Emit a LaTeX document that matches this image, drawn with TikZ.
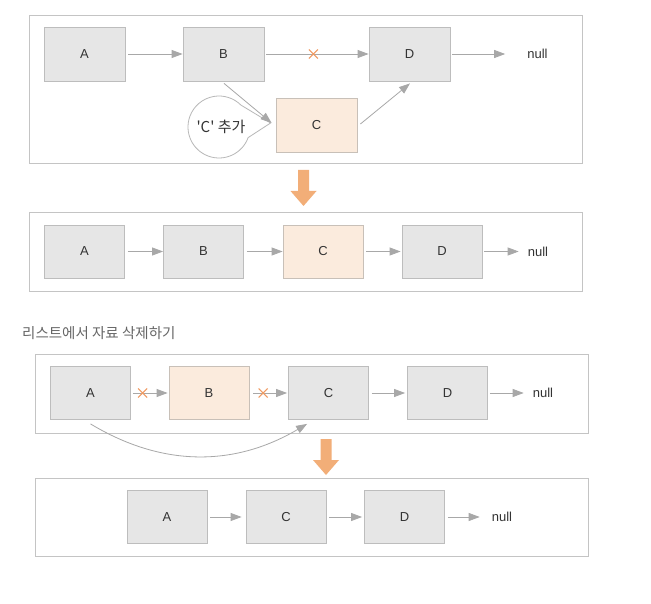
\documentclass[tikz,border=0pt]{standalone}
\usepackage{fontspec}
\setmainfont{Liberation Sans}
\newfontfamily\kr{Noto Sans CJK KR}
\usetikzlibrary{arrows.meta,calc}
\definecolor{boxfill}{HTML}{E6E6E6}
\definecolor{boxborder}{HTML}{BDBDBD}
\definecolor{orangefill}{HTML}{FBEBDD}
\definecolor{orangeborder}{HTML}{C8C0B8}
\definecolor{framecol}{HTML}{C4C4C4}
\definecolor{linkcol}{HTML}{A8A8A8}
\definecolor{crosscol}{HTML}{F09A62}
\definecolor{bigorange}{HTML}{F2AE78}
\definecolor{textcol}{HTML}{333333}
\definecolor{titlecol}{HTML}{666666}
\definecolor{ballooncol}{HTML}{B8B8B8}
\begin{document}
\begin{tikzpicture}[x=1pt,y=-1pt,
  box/.style={draw=boxborder, fill=boxfill, minimum width=80pt, minimum height=53pt,
    inner sep=0pt, line width=0.8pt, font=\fontsize{13}{15}\selectfont, text=textcol},
  bigbox/.style={box, minimum width=81pt, minimum height=54pt},
  newbox/.style={fill=orangefill, draw=orangeborder},
  nulltext/.style={inner sep=0pt, font=\fontsize{13}{15}\selectfont, text=textcol},
  frame/.style={draw=framecol, line width=0.8pt},
  link/.style={draw=linkcol, line width=0.8pt, -{Triangle[length=11pt,width=8pt,fill=linkcol]}},
  balloon/.style={draw=ballooncol, fill=white, line width=0.8pt},
  xmark/.pic={\draw[crosscol, line width=1.1pt] (-4.5,-4.5) -- (4.5,4.5) (-4.5,4.5) -- (4.5,-4.5);},
  bigdown/.pic={\fill[bigorange] (-5.5,0) -- (5.5,0) -- (5.5,21) -- (13,21) -- (0,36) -- (-13,21) -- (-5.5,21) -- cycle;}
]
\useasboundingbox[fill=white] (0,0) rectangle (651,604);

% ---------- panel 1 ----------
\draw[frame] (29,15) rectangle (582,163);
\node[bigbox] (A1) at (84.5,54) {A};
\node[bigbox] (B1) at (223.5,54) {B};
\node[bigbox,newbox] (C1) at (316.5,125) {C};
\node[bigbox] (D1) at (409.5,54) {D};
\node[nulltext] (N1) at (537.5,54) {null};

\draw[balloon] (219,127) ++(20:31) arc[start angle=20, end angle=315, radius=31]
  -- ($(C1.west)+(-5,-2)$) -- cycle;
\node[inner sep=0pt, font=\kr\fontsize{15}{17}\selectfont, text=textcol] (note) at (221,127) {'C' 추가};

\draw[link] ($(A1.east)+(3,0)$) -- (B1.west);
\draw[link] ($(B1.east)+(2,0)$) -- (D1.west);
\path ($(B1.east)+(2,0)$) -- (D1.west) pic[pos=0.46]{xmark};
\draw[link] ($(D1.east)+(2,0)$) -- ($(N1.west)+(-22,0)$);
\draw[link] ($(B1.south)+(0.5,2)$) -- ($(C1.west)+(-4,-2)$);
\draw[link] ($(C1.east)+(3,-1)$) -- ($(D1.south)+(0.5,2)$);

\pic at (303.5,170) {bigdown};

% ---------- panel 2 ----------
\draw[frame] (29,212) rectangle (582,291);
\node[box] (A2) at (84.5,251.5) {A};
\node[box] (B2) at (203.5,251.5) {B};
\node[box,newbox] (C2) at (323,251.5) {C};
\node[box] (D2) at (442,251.5) {D};
\node[nulltext] (N2) at (538,251.5) {null};
\draw[link] ($(A2.east)+(3,0)$) -- (B2.west);
\draw[link] ($(B2.east)+(3,0)$) -- (C2.west);
\draw[link] ($(C2.east)+(3,0)$) -- ($(D2.west)+(-1,0)$);
\draw[link] ($(D2.east)+(2,0)$) -- ($(N2.west)+(-9,0)$);

% ---------- title ----------
\node[anchor=west, inner sep=0pt, font=\kr\fontsize{14.5}{17}\selectfont, text=titlecol] (title) at (22,333) {리스트에서 자료 삭제하기};

% ---------- panel 3 ----------
\draw[frame] (35,354) rectangle (588,433);
\node[box] (A3) at (90.5,393) {A};
\node[box,newbox] (B3) at (209,393) {B};
\node[box] (C3) at (328.5,393) {C};
\node[box] (D3) at (447.5,393) {D};
\node[nulltext] (N3) at (543,393) {null};
\draw[link] ($(A3.east)+(2,0)$) -- ($(B3.west)+(-1,0)$);
\path ($(A3.east)+(2,0)$) -- ($(B3.west)+(-1,0)$) pic[pos=0.28]{xmark};
\draw[link] ($(B3.east)+(4,0)$) -- ($(C3.west)+(-1,0)$);
\path ($(B3.east)+(4,0)$) -- ($(C3.west)+(-1,0)$) pic[pos=0.29]{xmark};
\draw[link] ($(C3.east)+(3,0)$) -- ($(D3.west)+(-2,0)$);
\draw[link] ($(D3.east)+(2,0)$) -- ($(N3.west)+(-9,0)$);
\draw[link] ($(A3.south)+(0,4)$) .. controls (162,467) and (234,467) .. ($(C3.south west)+(19,4)$);

\pic at (326,439) {bigdown};

% ---------- panel 4 ----------
\draw[frame] (35,478) rectangle (588,556);
\node[box] (A4) at (167,517) {A};
\node[box] (C4) at (286,517) {C};
\node[box] (D4) at (404.5,517) {D};
\node[nulltext] (N4) at (502,517) {null};
\draw[link] ($(A4.east)+(3,0)$) -- ($(C4.west)+(-4,0)$);
\draw[link] ($(C4.east)+(3,0)$) -- ($(D4.west)+(-2,0)$);
\draw[link] ($(D4.east)+(3,0)$) -- ($(N4.west)+(-12,0)$);
\end{tikzpicture}
\end{document}
